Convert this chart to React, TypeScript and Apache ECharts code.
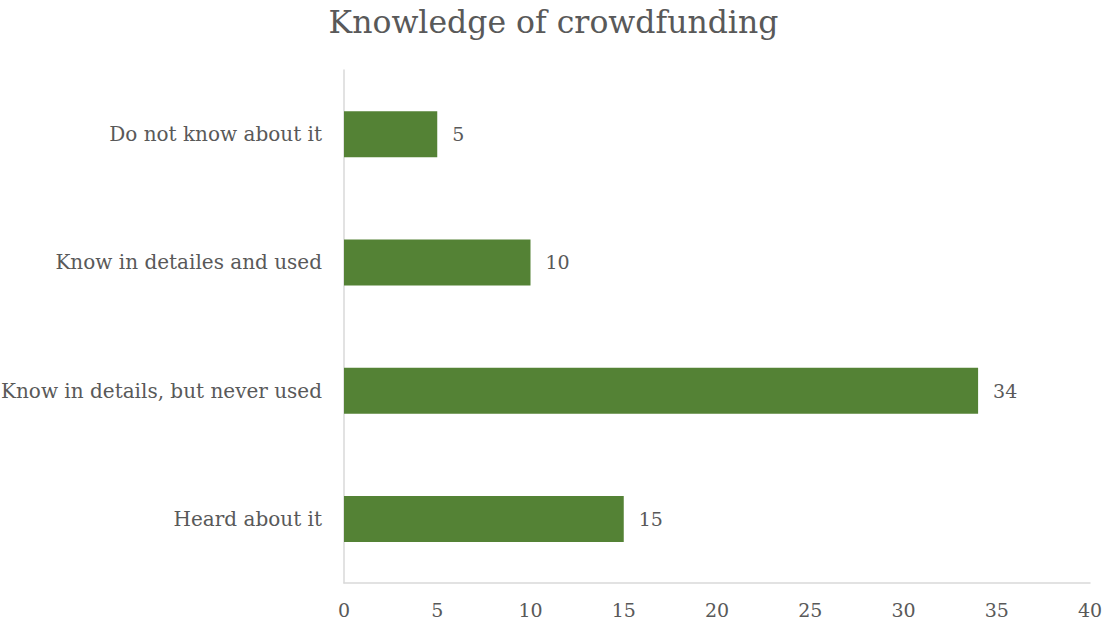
import React, { useEffect, useRef } from "react";
import * as echarts from "echarts";

const categories = [
  "Heard about it",
  "Know in details, but never used",
  "Know in detailes and used",
  "Do not know about it",
];
const values = [15, 34, 10, 5];
const titleText = "Knowledge of crowdfunding";

const FONT = "'DejaVu Serif', serif";
const TEXT = "#595959";

export default function App() {
  const ref = useRef<HTMLDivElement>(null);
  useEffect(() => {
    document.body.style.margin = "0";
    const chart = echarts.init(ref.current!, null, { renderer: "svg" });
    chart.setOption({
      animation: false,
      backgroundColor: "#ffffff",
      title: {
        text: titleText,
        left: "center",
        top: 1,
        textStyle: { fontFamily: FONT, fontSize: 31.5, fontWeight: "normal", color: TEXT },
      },
      grid: {
        left: 344,
        right: 17,
        top: 70,
        bottom: 45,
        containLabel: false,
        outerBoundsMode: "none",
      },
      xAxis: {
        type: "value",
        min: 0,
        max: 40,
        interval: 5,
        splitLine: { show: false },
        axisLine: { show: true, lineStyle: { color: "#d9d9d9", width: 1.5 } },
        axisTick: { show: false },
        axisLabel: { fontFamily: FONT, fontSize: 19, color: TEXT, margin: 17 },
      },
      yAxis: {
        type: "category",
        data: categories,
        axisLine: { show: true, lineStyle: { color: "#d9d9d9", width: 1.5 } },
        axisTick: { show: false },
        axisLabel: { fontFamily: FONT, fontSize: 20, color: TEXT, margin: 22 },
      },
      series: [
        {
          type: "bar",
          data: values,
          barWidth: 46,
          itemStyle: { color: "#548235" },
          label: {
            show: true,
            position: "right",
            distance: 15,
            fontFamily: FONT,
            fontSize: 19,
            color: TEXT,
          },
        },
      ],
    });
    return () => chart.dispose();
  }, []);
  return <div ref={ref} style={{ width: 1107, height: 628 }} />;
}
